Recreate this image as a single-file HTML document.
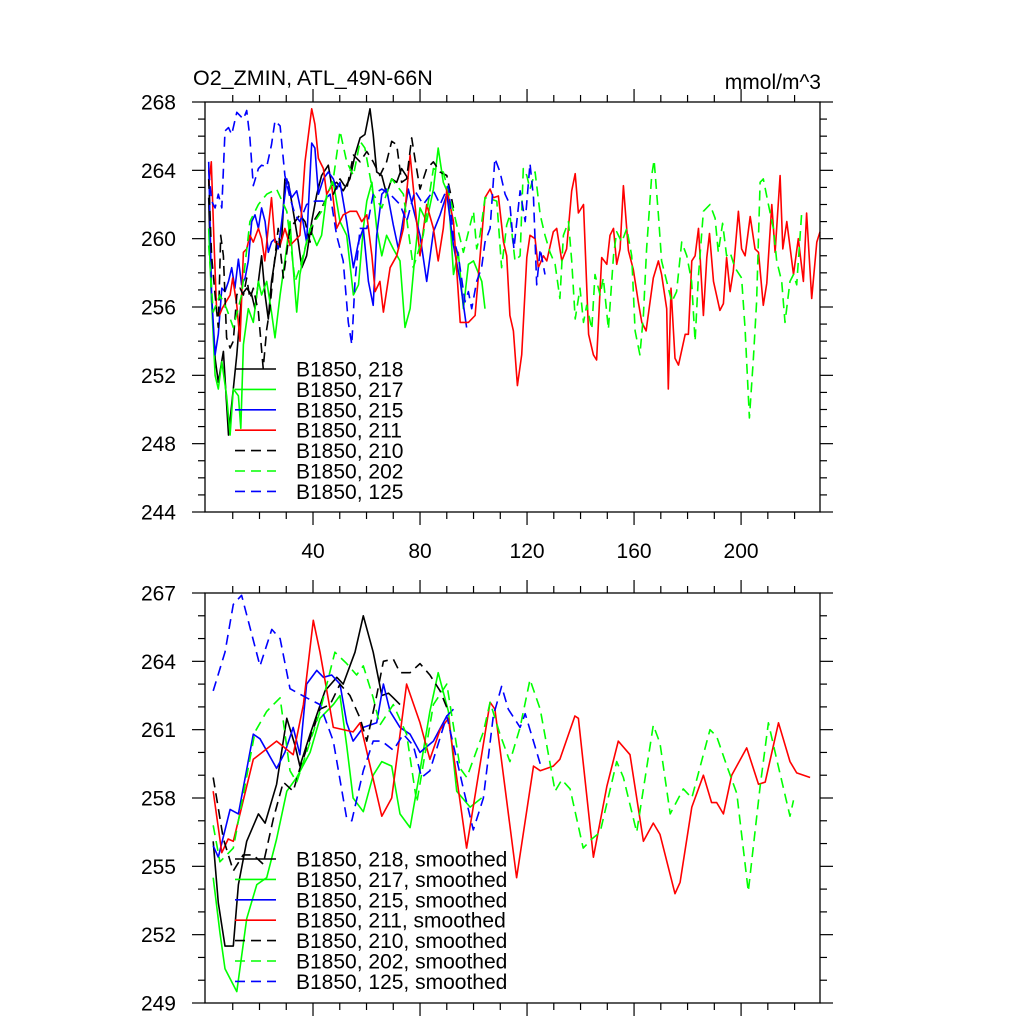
<!DOCTYPE html>
<html><head><meta charset="utf-8"><style>
html,body{margin:0;padding:0;background:#fff;}
svg{display:block;font-family:"Liberation Sans",Arial,sans-serif;}
</style></head><body>
<svg id="chart" width="1024" height="1024" viewBox="0 0 1024 1024" xmlns="http://www.w3.org/2000/svg">
<rect x="0" y="0" width="1024" height="1024" fill="#fff"/>
<text x="193" y="85" font-size="21.5">O2_ZMIN, ATL_49N-66N</text>
<text x="821" y="89" font-size="21" text-anchor="end">mmol/m^3</text>
<g id="top"></g>
<g id="bot"></g>
</svg>
<script>
// ---- data: years and values per series (top = raw, bottom = smoothed) ----
const yr218 = [1,2,3.4,4.6,6.5,8.4,10.2,11.5,13.3,15.2,17.1,18.3,20.8,22.1,23.3,24.5,26.4,28.3,29.5,30.8,32.6,34.5,35.8,37.6,39.5,41.4,43.2,45.7,47,48.8,51.3,53.8,55.7,57.6,59.4,61.3,62.5,63.8,65.7,67.5,69.4,71.3,73.1,75.6];
const v218 = [262.4,256.7,253.0,251.6,253.4,248.5,251.2,253.2,256.7,257.1,256.7,255.9,259.0,256.7,255.3,257.5,259.4,260.0,263.5,263.3,261.6,259.8,258.3,259.0,261.0,262.6,263.7,264.3,263.1,263.3,262.8,263.5,264.9,265.9,266.1,267.6,266.1,263.9,263.7,262.6,263.5,263.3,264.1,263.5];
const yr217 = [1,2,3.4,4.6,5.9,7.7,9,10.2,12.1,13,14,15.8,17.7,19.6,20.8,22.7,24.5,25.8,27.7,29.5,31.4,32.6,33.9,35.1,37,38.9,41.4,43.2,45.1,47.6,50.1,52.6,55.1,57,58.8,60.1,62,63.8,65.7,67.5,70,72.5,74.4,76.3,78.1,80,82.5,85,86.8,88.7,90.6,92.5,94.3,96.2,98.1,100,103.1,104.3];
const v217 = [260.6,256.7,252.0,251.2,252.8,250.8,248.5,251.2,250.8,248.9,253.8,255.9,255.1,257.5,256.7,257.5,255.7,254.2,256.7,258.7,261.0,258.3,255.7,257.9,259.4,260.6,259.6,260.2,262.6,263.3,261.0,260.2,256.7,257.3,260.6,262.2,263.3,260.6,259.0,260.2,259.4,258.7,254.8,255.9,259.0,261.8,261.0,262.9,265.3,263.3,262.6,257.9,259.2,255.9,258.5,258.7,257.5,255.9];
const yr215 = [1,2.1,3.4,4.6,5.9,7.1,8.4,9.6,10.8,12.1,13.3,14.6,15.8,17.1,18.3,19.6,20.8,22.1,23.3,24.5,25.8,27,28.3,30.2,32,33.9,35.8,37.6,39.5,40.7,42,43.9,45.7,47.6,48.8,50.1,52.6,55.1,57,58.8,60.7,62.5,63.8,65.7,67.5,70,71.9,73.8,75.6,80,82.5,85,87.5,90,92.5,95,97.4];
const v215 = [264.5,256.7,253.2,254.4,257.1,256.9,257.5,258.3,257.1,258.8,257.3,257.7,258.7,261.0,261.4,260.6,261.8,261.0,259.2,259.8,260.0,259.4,261.0,263.5,262.4,262.8,261.4,259.8,265.6,265.3,262.6,263.5,263.9,263.5,262.9,263.3,261.0,258.3,259.8,260.6,257.5,256.1,260.2,262.6,262.9,260.8,259.4,261.2,262.9,260.2,257.5,260.4,261.4,262.6,259.6,257.5,254.8];
const yr211 = [1,2,3,4,5,6,9,10,11.5,12.7,14,15.2,16.4,17.7,19.6,20.8,22,24.5,25.8,27.7,29.5,31.4,35.1,37,39.5,40.7,42,43.9,45.1,47,48.8,51.3,53.8,56.3,58.2,60.1,62,63.2,65,66.3,68.8,71.3,73.8,76.3,80,82.5,85,86.8,88.7,90,92.5,95,98.1,100.6,104.3,106.2,107.4,109.3,111.2,112.4,113.6,114.9,116.4,118,119.9,121.1,123,124.2,126.1,127.4,129.8,131.1,133,134.8,136.7,138,139.2,141.1,143,144.8,146,147.9,149.8,151,152.3,153.5,154.8,156,157.9,159.7,161.6,162.9,164.5,167.2,169.1,170.3,172.2,172.8,173.8,175.3,176.6,179.1,180.3,181.6,182.8,184.1,185.9,187.2,188.2,189.7,192.1,193.4,194.6,195.9,197.1,199,200.2,201.5,203.4,205.2,206.5,208.3,209.6,211.5,212.7,214.6,215.6,217.1,219.6,221.4,223.3,224.5,226.4,228.3,229.5];
const v211 = [263.1,264.5,259.8,255.7,255.5,255.9,256.7,257.7,256.1,254.0,259.2,259.4,260.2,259.8,260.6,260.0,258.7,262.4,259.8,259.6,260.6,259.6,260.2,264.5,267.6,266.7,264.7,264.1,262.6,263.1,260.6,261.4,261.6,261.6,261.0,261.4,259.0,256.9,257.5,255.7,258.3,259.0,260.6,264.9,259.0,262.0,260.6,258.7,260.6,262.9,261.0,255.1,255.1,255.5,262.4,262.9,262.4,262.5,259.8,259.0,255.5,254.6,251.4,253.2,258.9,260.2,260.0,258.3,259.0,258.7,260.4,260.6,258.7,259.4,262.8,263.8,261.5,262.0,254.4,253.2,252.9,258.9,258.5,260.2,260.6,258.5,259.4,263.1,259.3,258.2,256.3,255.1,254.6,257.7,258.7,257.9,255.9,251.2,257.1,253.0,252.6,254.4,254.4,258.7,259.0,260.6,255.5,258.9,260.3,257.5,255.8,256.2,258.9,256.9,258.1,261.6,259.4,259.0,261.3,259.4,259.2,256.1,257.4,262.0,259.2,263.7,259.4,261.0,257.9,260.0,257.5,261.5,256.5,259.8,260.4];
const yr210 = [1,2.1,3.4,4.6,5.5,6.5,7.7,9,10.2,11.5,12.7,14,15.2,16.4,17.7,19.6,21.4,22.7,23.9,25.2,27,28.9,30.2,31.4,33.3,35.1,37,38.9,40.1,42.6,45.1,47.6,50.1,52.6,55.1,57.6,60.1,62.5,65,67.5,69.4,71.3,73.1,75,76.9,78.1,80,82.5,85,87.5,90,92.5];
const v210 = [263.5,259.0,256.7,254.8,260.2,259.0,254.2,253.6,254.0,256.7,257.1,256.7,257.7,256.5,257.1,255.7,252.4,254.7,255.9,258.1,260.6,257.7,259.2,260.6,261.0,261.4,261.0,259.8,261.0,261.6,262.4,262.6,263.5,262.9,264.9,264.5,265.1,264.5,263.7,264.5,265.7,265.5,263.3,263.5,265.9,264.7,262.9,264.1,264.5,263.9,263.7,261.8];
const yr202 = [1,2.7,5.2,7.7,10.2,13.3,16.4,19.6,22.7,26.4,30.2,33.3,35.1,38.9,43.2,47.6,50.1,52.6,55.1,57.6,59.4,62.5,65.7,69.4,73.8,77.5,81.2,85,88.7,92.5,96.2,100,101.2,102.4,104.3,106.8,108.7,110.5,112.4,113.6,115.5,117.4,118.6,119.9,121.1,123,124.9,126.7,128.6,130.5,132.3,133.6,135.5,136.7,138,139.8,141.1,142.3,144.2,145.4,147.3,148.5,150.4,152.3,153.5,155.4,157.3,159.1,160.4,162.2,163.5,164.7,166.6,167.5,169.1,170.3,172.2,174.1,175.9,177.8,179.7,181.5,182.8,184,185.9,188.4,190.3,191.5,193.1,194.6,195.9,197.7,200.2,201.5,203.1,204.6,205.8,207.1,208.3,210.2,212.1,213.3,215.2,216.4,218.3,219.6,220.8,222.7];
const v202 = [259.6,255.7,256.7,255.9,254.8,256.7,261.0,262.0,262.6,262.9,261.6,257.5,258.3,260.6,261.6,263.5,266.3,264.5,263.7,265.7,265.3,262.6,261.8,263.5,262.6,258.3,260.2,264.1,263.9,261.6,259.2,261.6,259.4,260.2,262.4,262.3,262.2,258.3,260.8,261.4,258.7,259.0,264.1,263.7,262.9,263.9,261.4,260.2,259.2,258.5,256.5,260.2,261.0,258.7,255.3,257.1,255.1,256.1,254.7,257.9,256.7,257.7,254.7,259.0,260.4,259.8,260.6,259.0,254.6,253.2,255.5,259.4,263.7,264.6,261.4,258.7,257.5,256.3,256.9,259.8,259.0,257.5,254.0,257.7,261.6,262.0,261.2,259.2,260.9,259.0,259.2,258.3,257.7,254.7,249.5,253.0,256.3,263.3,263.5,262.0,260.6,258.7,257.5,255.1,257.5,257.9,257.3,261.6];
const yr125 = [1,2.1,3.4,4.6,5.9,7.1,8.4,9.6,11.5,14,15.2,16.4,17.7,19.6,20.8,22.7,24.5,25.8,27.7,29.5,31.4,33.3,35.1,37.6,40.7,43.9,46.4,48.8,51.3,53.2,54.5,55.7,57.6,60.1,62.5,65.7,68.8,72.5,75,78.1,81.2,85,87.5,90.6,92.5,94.3,96.8,98.1,99.3,101.2,103,104.3,106.2,108,109.9,111.8,113.6,115.1,117.4,119.3,121.1,122.4,123.6,124.9,126.7];
const v125 = [264.0,262.2,261.8,262.6,261.8,266.3,266.5,266.1,267.4,267.0,267.5,265.9,263.1,264.1,264.3,264.2,265.5,266.9,266.6,263.7,262.4,261.4,261.0,262.0,262.2,262.2,262.6,260.2,258.7,255.1,253.8,257.5,260.6,260.6,262.6,262.9,262.6,262.0,261.0,262.8,262.0,262.8,262.0,263.1,260.0,259.0,256.3,256.9,255.9,257.5,258.3,259.8,260.6,264.7,263.9,262.6,262.0,259.4,262.8,261.0,264.4,262.4,257.3,259.4,257.9];

const syr218 = [2.7,4.6,7.1,10.2,12.1,15.2,19.6,22.1,26.4,30.2,33.3,35.1,38.9,44.5,48.9,51.3,55.7,58.8,62.5,65.7,68.2,70,72.5];
const sv218 = [256.1,253.4,251.5,251.5,254.2,256.1,257.3,256.9,258.6,261.5,260.3,259.4,260.8,262.7,263.3,263.0,264.4,266.0,264.4,262.5,262.6,262.4,262.1];
const syr217 = [2.7,5.2,7.1,11.5,15.2,19,22.7,26.4,30.2,33.9,38.9,42.6,47.6,50.1,52.6,55,58.8,62.5,65.7,69.4,72.5,76.3,80,83.7,86.8,90.6,93.7,98.7,103];
const sv217 = [254.5,252.1,250.5,249.5,252.7,254.2,254.5,256.2,258.3,258.9,260.0,261.5,262.1,262.5,260.3,258.0,257.4,259.0,259.6,259.4,257.3,256.7,259.2,261.8,263.5,261.8,258.3,257.6,258.0];
const syr215 = [2.7,4.6,9,12.1,17.7,20.2,26.4,29.5,32.6,35.1,37.6,41.4,43.9,47,50.1,52.6,55,58.8,63.8,66.3,68.8,72.5,76.3,80,85,90,92.5];
const sv215 = [255.9,255.4,257.5,257.3,260.8,260.6,259.3,260.0,261.1,259.9,263.0,263.6,263.3,263.4,263.0,261.3,260.5,261.1,261.3,263.0,261.8,261.1,260.8,260.0,260.5,261.6,261.9];
const syr211 = [2.7,5.9,8.3,10.2,17.7,26.4,32.6,36.4,40.1,42.6,47.6,55,57.6,65.7,69.4,75,80,83.7,87.5,90.6,97.4,106.2,108,116.1,122.4,124.9,129.8,132.3,137.9,139.2,144.8,149.8,154.1,158.5,163.5,167.2,169.7,175.3,177.2,181.6,185.9,189,190.9,193.4,196.5,202.1,206.5,209,214,218.3,220.8,225.8];
const sv211 = [258.3,255.6,256.2,256.1,259.7,260.5,259.9,262.1,265.8,264.4,261.1,260.9,261.3,257.2,258.0,263.0,261.3,259.7,261.0,261.5,255.8,262.2,261.9,254.5,259.4,259.2,259.4,259.7,261.6,261.5,255.4,258.5,260.5,259.9,256.1,256.9,256.4,253.8,254.3,257.6,259.0,257.8,257.8,257.3,259.0,260.2,258.6,258.7,261.3,259.6,259.1,258.9];
const syr210 = [2.7,6.5,10.2,13.9,17.7,21.4,25.2,28.9,32.6,35.1,38.9,42.6,46.4,50.1,53.8,57.6,60.1,63.8,66.3,70,72.5,76.3,80,83.7,87.5,90.6];
const sv210 = [258.9,256.2,254.8,255.5,255.5,255.1,257.1,258.7,258.3,259.3,260.6,261.9,262.1,263.0,262.5,261.5,260.5,262.5,264.0,264.1,263.5,263.5,263.9,263.4,262.7,261.8];
const syr202 = [2.7,5.2,10.2,18.3,22.7,27.7,31.4,33.9,37.6,42.6,48.2,52.6,56.3,58.8,62.5,65,70,75,78.8,85,90,95,97.5,103.7,106.2,109.9,113.6,117.4,121.1,124.9,130.5,133,136.1,141,144.2,147.3,153.5,156,161,167.2,169.7,173.5,178.4,181.6,188.4,190.9,194.7,198.4,202.7,207.1,210.2,213.3,218.3,219.6];
const sv202 = [256.8,255.2,255.8,260.9,261.8,262.4,259.2,258.7,260.0,261.8,264.4,263.9,263.4,263.8,262.4,261.2,262.1,260.8,257.8,262.1,263.0,259.3,258.9,260.9,262.2,260.8,259.6,261.1,263.2,261.9,258.3,258.8,258.4,255.8,256.2,256.5,259.6,258.9,256.5,261.2,260.4,257.3,258.4,258.0,261.0,260.7,259.4,258.2,253.9,258.5,261.3,259.7,257.2,257.9];
const syr125 = [2.7,7.1,10.2,13.3,20.2,24.6,27.7,31.4,37.6,42.6,47.6,52.6,54.5,58.8,62.5,65.7,70,73.8,77.5,80.6,83.7,90,96.2,99.9,103.7,107.4,110.5,113,117.4,119.3,124.9];
const sv125 = [262.7,264.4,266.5,266.9,263.8,265.4,265.0,262.8,262.4,262.1,260.5,257.1,257.0,259.2,260.5,260.5,260.1,260.8,260.3,258.9,259.2,261.6,258.4,256.6,258.0,261.6,262.9,261.9,261.1,261.7,259.5];

const topTicks = [244,248,252,256,260,264,268];
const botTicks = [249,252,255,258,261,264,267];
const xTicks = [40,80,120,160,200];
const topNames = ["B1850, 218","B1850, 217","B1850, 215","B1850, 211","B1850, 210","B1850, 202","B1850, 125"];
const botNames = ["B1850, 218, smoothed","B1850, 217, smoothed","B1850, 215, smoothed","B1850, 211, smoothed","B1850, 210, smoothed","B1850, 202, smoothed","B1850, 125, smoothed"];

const NS = "http://www.w3.org/2000/svg";
const X0 = 205, X1 = 820, XMIN = -0.37, XMAX = 229.5;
const FS = 21;
function xs(v){ return X0 + (v - XMIN) / (XMAX - XMIN) * (X1 - X0); }
function mk(tag, attrs, parent){ const e = document.createElementNS(NS, tag); for (const k in attrs) e.setAttribute(k, attrs[k]); parent.appendChild(e); return e; }

const styles = [
  {c:"#000", d:null}, {c:"#00ff00", d:null}, {c:"#0000ff", d:null}, {c:"#ff0000", d:null},
  {c:"#000", d:"10 6"}, {c:"#00ff00", d:"10 6"}, {c:"#0000ff", d:"10 6"}
];

function panel(g, Y0, Y1, ymin, ymax, ticks, minorStep, series, names, legY, labelsX, slug){
  const ys = v => Y1 - (v - ymin) / (ymax - ymin) * (Y1 - Y0);
  const sg = mk("g", {}, g);
  
  
  series.forEach((s, i) => {
    const pts = s[0].map((yr, j) => xs(yr).toFixed(1) + "," + ys(s[1][j]).toFixed(1)).join(" ");
    const p = mk("polyline", {points: pts, fill: "none", stroke: styles[i].c, "stroke-width": 1.6, "stroke-linejoin": "round"}, sg);
    if (styles[i].d) p.setAttribute("stroke-dasharray", styles[i].d);
    
    
  });
  const fr = mk("rect", {x: X0, y: Y0, width: X1 - X0, height: Y1 - Y0, fill: "none", stroke: "#000", "stroke-width": 1.3}, g);
  
  
  for (let v = ymin; v <= ymax + 1e-6; v += minorStep) {
    const y = ys(v);
    const major = ticks.some(t => Math.abs(t - v) < 1e-6);
    const L = major ? 13 : 7;
    mk("line", {x1: X0 - L, y1: y, x2: X0, y2: y, stroke: "#000", "stroke-width": 1.2}, g);
    mk("line", {x1: X1, y1: y, x2: X1 + L, y2: y, stroke: "#000", "stroke-width": 1.2}, g);
  }
  ticks.forEach(t => {
    const tx = mk("text", {x: 176, y: ys(t) + 7.5, "font-size": FS, "text-anchor": "end"}, g);
    tx.textContent = t;
    
    
  });
  for (let v = 10; v <= XMAX; v += 10) {
    const x = xs(v);
    const major = xTicks.includes(v);
    const L = major ? 13 : 7;
    mk("line", {x1: x, y1: Y0 - L, x2: x, y2: Y0, stroke: "#000", "stroke-width": 1.2}, g);
    mk("line", {x1: x, y1: Y1, x2: x, y2: Y1 + L, stroke: "#000", "stroke-width": 1.2}, g);
  }
  if (labelsX) xTicks.forEach(t => {
    const tx = mk("text", {x: xs(t), y: Y1 + 46, "font-size": FS, "text-anchor": "middle"}, g);
    tx.textContent = t;
    
    
  });
  const lg = mk("g", {}, g);
  
  
  names.forEach((n, i) => {
    const y = legY + i * 20.4;
    const ln = mk("line", {x1: 235, y1: y, x2: 276, y2: y, stroke: styles[i].c, "stroke-width": 1.6}, lg);
    if (styles[i].d) ln.setAttribute("stroke-dasharray", styles[i].d);
    const tx = mk("text", {x: 296, y: y + 7.5, "font-size": FS}, lg);
    tx.textContent = n;
    
    
  });
}

panel(document.getElementById("top"), 102, 512, 244, 268, topTicks, 1,
  [[yr218,v218],[yr217,v217],[yr215,v215],[yr211,v211],[yr210,v210],[yr202,v202],[yr125,v125]],
  topNames, 369, true, "top");
panel(document.getElementById("bot"), 593, 1003, 249, 267, botTicks, 1,
  [[syr218,sv218],[syr217,sv217],[syr215,sv215],[syr211,sv211],[syr210,sv210],[syr202,sv202],[syr125,sv125]],
  botNames, 859, false, "bottom");
</script>
</body></html>
